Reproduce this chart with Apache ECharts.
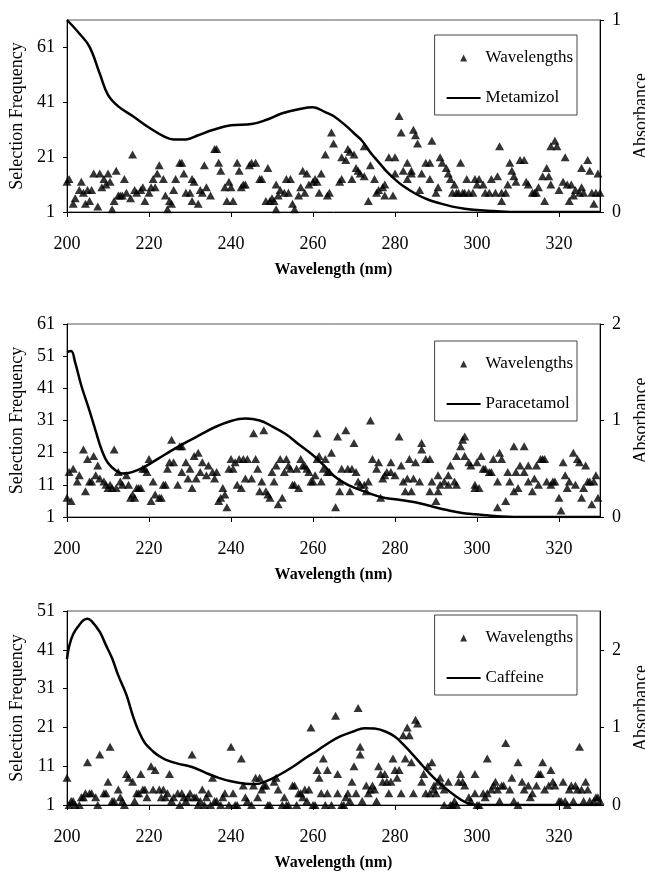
<!DOCTYPE html>
<html>
<head>
<meta charset="utf-8">
<script src="https://cdn.jsdelivr.net/npm/echarts@6/dist/echarts.min.js"></script>
<style>
  html, body { margin: 0; padding: 0; background: #fff; }
  #chart { width: 645px; height: 872px; }
</style>
</head>
<body>
<div id="chart"></div>
<script>
  // selection frequency of each wavelength, [nm, frequency]
  const metamizolFreq = [[200,12],[200.5,13],[201.5,4],[202,6],[203,9],[203.5,12],[204,8],[204.5,4],[205,9],[205.5,5],[206,9],[206.5,15],[207.5,3],[208,15],[208.5,10],[209,13],[209.5,11],[210,15],[210.5,12],[211,2],[211.5,5],[212,16],[212.5,7],[213,7],[213.5,7],[214,13],[214.5,8],[215.5,6],[216,22],[216.5,9],[217,8],[218,9],[218.5,10],[219,5],[220,8],[220.5,10],[221,13],[221.5,10],[222,15],[222.5,18],[223.5,13],[224,7],[224.5,2],[225,5],[225.5,4],[226,9],[226.5,13],[227.5,19],[228,19],[228.5,15],[229,8],[230,8],[230.5,13],[230.5,5],[231,12],[232,4],[232.5,9],[233,8],[233.5,18],[234,10],[235,7],[236,24],[236.5,24],[237,19],[237.5,16],[238.5,10],[239,5],[239.5,12],[240,10],[240.5,5],[241.5,19],[242,16],[242.5,10],[243,11],[243.5,11],[244.5,18],[245,19],[246,19],[247,13],[247.5,13],[248.5,5],[249,17],[249.5,5],[250,6],[250.5,5],[251,11],[251,2],[251.5,7],[252,9],[253,8],[253.5,13],[254,8],[254.5,13],[255,4],[255.5,2],[256.5,7],[257,10],[257.5,16],[258,8],[258.5,15],[259,11],[260,12],[260.5,13],[261,12],[261.5,8],[262,15],[263,22],[263.5,7],[264,8],[264.5,30],[265,26],[266.5,12],[267,13],[267,21],[268,20],[268.5,24],[269,23],[269.5,13],[270,22],[270.5,17],[271,16],[271.5,15],[272.5,14],[272.5,25],[273.5,5],[274,18],[275,13],[275.5,8],[276,9],[277,10],[277.5,7],[277.5,11],[278.5,21],[279.5,7],[280,21],[280,15],[281,36],[281.5,30],[282,16],[283,13],[283,19],[284,15],[284,16],[284.5,31],[285,29],[285.5,26],[286,9],[286.5,15],[287.5,19],[288.5,19],[288.5,13],[289,27],[290,8],[290.5,10],[291,21],[291.5,19],[292.5,17],[293,15],[293.5,13],[294,8],[294.5,11],[295,8],[295.5,8],[296,19],[296.5,8],[297,8],[297.5,13],[298,8],[299,8],[299.5,13],[300,11],[300.5,13],[301.5,11],[302,8],[303,8],[303.5,13],[304.5,8],[305,14],[305.5,25],[306,5],[306,8],[307,8],[307.5,11],[308,19],[308.5,16],[309,14],[309.5,12],[310.5,20],[311.5,20],[312,12],[312.5,11],[313.5,8],[314,8],[314.5,8],[315,10],[316,14],[316.5,5],[317,17],[317.5,14],[318,11],[318,25],[319,27],[319.5,25],[320,9],[321,12],[321.5,21],[322,11],[322.5,5],[323,11],[323.5,7],[324,9],[325,8],[325.5,10],[325.5,17],[326,8],[327,20],[327.5,16],[328,8],[328.5,4],[329,8],[329.5,15],[330,8]]

  const paracetamolFreq = [[200,7],[200.5,15],[201,6],[201.5,16],[202.5,12],[203,14],[204,22],[204.5,9],[205,19],[205.5,12],[206,12],[206.5,20],[207,14],[207.5,17],[208,13],[209,12],[209.5,11],[210,10],[210.5,11],[211,10],[211.5,22],[212,10],[212.5,15],[213,12],[213.5,11],[214.5,14],[215,11],[215.5,7],[216,8],[216.5,7],[217,10],[217.5,10],[218,10],[218.5,16],[219,16],[219.5,15],[220,19],[220.5,6],[221,12],[221.5,8],[222.5,7],[223,7],[223.5,11],[224,11],[224.5,16],[225,18],[225.5,25],[226,18],[227,11],[227.5,23],[228,23],[228,15],[229,18],[229.5,13],[230,16],[230.5,10],[231,20],[231.5,13],[232,21],[232.5,15],[233,18],[234,14],[234.5,17],[235.5,15],[236,13],[236.5,15],[237,6],[237.5,7],[238,10],[238.5,8],[239,4],[239.5,16],[240,19],[240.5,16],[241,18],[241.5,11],[242,19],[242.5,10],[243,19],[243.5,13],[244,19],[245,13],[245.5,27],[246,19],[246.5,16],[247,9],[247.5,12],[248,28],[248.5,9],[249,8],[249.5,7],[250,15],[250.5,12],[251,17],[251.5,5],[252,19],[252.5,7],[253,15],[253.5,19],[254,17],[254.5,16],[255,11],[255.5,11],[256,16],[256.5,10],[257,19],[257.5,17],[258,17],[258.5,16],[259,15],[259.5,12],[260,12],[260.5,14],[261,27],[261,19],[261.5,20],[262,12],[262.5,16],[263,19],[263.5,15],[264,15],[264.5,21],[265.5,4],[266,26],[266.5,12],[266.5,9],[267,16],[268,28],[268.5,16],[269,9],[269.5,16],[270,24],[270.5,15],[271,12],[271.5,11],[272.5,11],[273,9],[273.5,12],[274,31],[274.5,19],[275.5,16],[276,18],[276.5,7],[277,13],[277.5,14],[278,15],[279,18],[279,15],[280,14],[281,26],[281.5,17],[282,12],[282.5,9],[283,13],[283.5,19],[284,9],[284.5,13],[285,18],[286,12],[286.5,24],[286.5,22],[287.5,19],[288.5,9],[288.5,19],[289,12],[290,6],[290.5,9],[290.5,14],[291,11],[292,12],[293,11],[293,14],[293.5,17],[294.5,12],[295,11],[295,20],[296,23],[296.5,25],[297,26],[297,20],[298,18],[298.5,17],[299.5,11],[299.5,10],[300,18],[300.5,10],[301,20],[301.5,16],[302,16],[303,15],[303.5,15],[304,19],[305,12],[305,4],[305.5,21],[306,19],[307,6],[307.5,15],[308,12],[309,9],[309,23],[309.5,15],[310,10],[310.5,17],[311.5,23],[311.5,15],[312.5,12],[312.5,17],[313.5,9],[314,13],[314.5,17],[315,11],[315.5,19],[316,19],[316.5,19],[317,12],[318,11],[318.5,12],[319,12],[320,7],[320.5,3],[321,18],[321.5,14],[322,10],[322.5,12],[323.5,21],[324,11],[324.5,19],[325,18],[325.5,7],[326,10],[326.5,17],[327,12],[327.5,12],[328,5],[328.5,12],[329,14],[329.5,7]]

  const caffeineFreq = [[200,8],[200.5,1],[201,2],[201.5,2],[202,1],[203,1],[203.5,3],[204,3],[204.5,4],[205,12],[205.5,4],[206,4],[207,3],[207.5,1],[208,14],[209,4],[209.5,4],[210,7],[210.5,16],[211,2],[211.5,2],[212.5,5],[213,3],[213.5,2],[214,1],[214.5,9],[215,8],[216,7],[216.5,2],[217,4],[217.5,4],[218,9],[218.5,5],[219,5],[219.5,3],[220.5,11],[221,5],[221.5,10],[222.5,5],[223,3],[223.5,5],[224,3],[224.5,4],[225,9],[225.5,2],[226,3],[227,4],[227.5,1],[228,4],[228.5,3],[229,2],[229.5,3],[230,4],[230.5,14],[231,3],[231.5,3],[232,1],[232.5,2],[233,5],[233.5,1],[234,3],[234.5,4],[235,1],[235.5,8],[236,2],[236.5,2],[237.5,1],[238,3],[238.5,4],[239.5,1],[240,16],[240.5,4],[241,1],[241.5,1],[242.5,13],[243,6],[243.5,3],[244,2],[245,1],[245.5,6],[246,8],[246.5,3],[247,8],[247.5,5],[248,6],[248.5,6],[249,1],[249.5,1],[250.5,7],[251,8],[251.5,5],[252.5,1],[253,3],[253.5,1],[254,1],[255,6],[255.5,6],[256,1],[256.5,4],[257,4],[257.5,3],[258,5],[258.5,2],[259,5],[259.5,21],[260,1],[260.5,1],[261,10],[261.5,8],[262,4],[262.5,13],[263,1],[263.5,10],[263.5,4],[264.5,1],[265.5,24],[266,9],[266,4],[267,1],[267.5,1],[268,3],[268.5,4],[269,2],[269.5,7],[270,11],[270.5,4],[271,26],[271.5,14],[271.5,16],[272,2],[273,6],[273.5,4],[274,5],[274.5,6],[275,5],[275.5,2],[276,11],[276.5,9],[277,7],[277.5,9],[278,7],[278.5,4],[279,7],[279.5,13],[280,10],[280.5,8],[281,10],[281.5,4],[282,19],[282.5,13],[283,21],[283.5,19],[284,12],[284.5,4],[285,23],[285.5,22],[286.5,7],[287,9],[287.5,4],[288,11],[288.5,4],[289,12],[289.5,6],[289.5,5],[290,4],[290.5,7],[291,8],[291.5,6],[292,5],[292,1],[293,7],[293.5,1],[294,1],[294.5,2],[295,1],[295.5,7],[296,9],[296.5,7],[297,6],[298,3],[298.5,2],[299.5,9],[299.5,4],[300,1],[300.5,1],[301.5,4],[302,3],[302.5,4],[302.5,13],[303.5,5],[304,6],[304.5,7],[305,5],[305.5,2],[306,6],[306.5,6],[307,17],[308,5],[308.5,8],[309,2],[310,12],[310,1],[311,7],[311.5,5],[312.5,6],[313,3],[313.5,4],[314.5,6],[315,9],[315.5,9],[316,12],[316.5,5],[317.5,6],[318,10],[318.5,7],[319,6],[320,2],[320.5,2],[321,7],[321.5,2],[322,1],[322.5,5],[323,6],[323.5,2],[324,6],[324.5,5],[325,16],[325.5,5],[326,2],[326.5,7],[327,5],[327.5,2],[328.5,2],[329,3],[329.5,3],[330,2]]

  // absorbance spectra, [nm, absorbance]
  const metamizolAbs = [[200,1.0],[203,0.93],[205.5,0.86],[208,0.72],[210,0.61],[212.5,0.55],[216,0.50],[220,0.44],[224,0.39],[226,0.378],[229,0.378],[232,0.40],[235.5,0.427],[240,0.452],[245,0.458],[248.5,0.479],[252.5,0.514],[256.5,0.535],[260,0.545],[263,0.52],[265,0.50],[268,0.45],[270,0.41],[272,0.37],[274,0.31],[276,0.26],[278,0.21],[280,0.17],[282,0.135],[285,0.095],[288,0.065],[291,0.045],[294,0.028],[297,0.017],[300,0.01],[304,0.005],[310,0],[320,0],[330,0]]
  const paracetamolAbs = [[200,1.71],[201,1.72],[202,1.6],[203.5,1.36],[205.5,1.10],[207,0.89],[208.5,0.69],[210,0.56],[212,0.48],[213.5,0.45],[215,0.455],[217.5,0.49],[220,0.546],[224,0.65],[228,0.75],[232,0.84],[236,0.93],[240,0.995],[243.5,1.02],[247,1.0],[250,0.94],[253.5,0.855],[256.5,0.753],[260,0.64],[263,0.52],[265,0.43],[267.5,0.356],[270,0.304],[273.5,0.25],[276.5,0.207],[280,0.183],[283,0.166],[286.5,0.138],[289.5,0.104],[293,0.069],[296,0.045],[299.5,0.028],[302.5,0.017],[305,0.008],[309,0],[320,0],[330,0]]
  const caffeineAbs = [[200,1.88],[200.5,2.04],[201.5,2.2],[203,2.32],[204,2.38],[205,2.40],[206,2.37],[208,2.23],[209.5,2.06],[211,1.89],[212.5,1.67],[214.5,1.42],[216,1.16],[217.5,0.95],[219,0.8],[221,0.69],[222.5,0.63],[224,0.585],[227,0.533],[230.5,0.49],[234,0.41],[237,0.35],[240,0.305],[243.5,0.275],[246,0.27],[248.5,0.305],[251.5,0.38],[255,0.49],[258,0.6],[261,0.7],[263.5,0.79],[266.5,0.88],[270,0.95],[272.5,0.99],[275,0.985],[277.5,0.95],[280,0.88],[282,0.78],[284.5,0.64],[287,0.49],[289.5,0.35],[292,0.23],[294.5,0.125],[297,0.04],[299.5,0],[310,0],[330,0]]

  const font = '"Liberation Serif", "Times New Roman", serif'

  const panels = [
    { drug: 'Metamizol', freq: metamizolFreq, abs: metamizolAbs, top: 20, height: 192, fMax: 71, fStep: 20, aMax: 1, legendTop: 35 },
    { drug: 'Paracetamol', freq: paracetamolFreq, abs: paracetamolAbs, top: 324, height: 193, fMax: 61, fStep: 10, aMax: 2, legendTop: 341 },
    { drug: 'Caffeine', freq: caffeineFreq, abs: caffeineAbs, top: 611, height: 194, fMax: 51, fStep: 10, aMax: 2.5, legendTop: 615 }
  ]

  const txt = { fontFamily: font, color: '#000' }
  const blackLine = { lineStyle: { color: '#000', width: 1 } }
  // small triangle centred in a 34x7 legend cell (the two moves only stretch the bounds)
  const legendTriangle = 'path://M0,0M34,0M13.5,7L17,0L20.5,7Z'

  const option = {
    animation: false,
    backgroundColor: '#fff',
    grid: [], xAxis: [], yAxis: [], legend: [], series: []
  }

  panels.forEach((p, i) => {
    option.grid.push({
      left: 67, top: p.top, width: 533, height: p.height,
      outerBoundsMode: 'none',
      show: true, borderColor: '#555', borderWidth: 1
    })
    option.xAxis.push({
      gridIndex: i, type: 'value', min: 200, max: 330, interval: 20,
      axisLine: blackLine,
      axisTick: { show: true, length: 5, lineStyle: { color: '#000' } },
      axisLabel: { ...txt, fontSize: 18, margin: 23, showMaxLabel: false },
      splitLine: { show: false },
      name: 'Wavelength (nm)', nameLocation: 'middle', nameGap: 50,
      nameTextStyle: { ...txt, fontSize: 16, fontWeight: 'bold' }
    })
    // left axis: selection frequency
    option.yAxis.push({
      gridIndex: i, type: 'value', position: 'left', min: 1, max: p.fMax, interval: p.fStep,
      axisLine: { show: true, ...blackLine },
      axisTick: { show: true, length: 4, lineStyle: { color: '#000' } },
      axisLabel: { ...txt, fontSize: 18, margin: 12, showMaxLabel: p.fMax !== 71 },
      splitLine: { show: false },
      name: 'Selection Frequency', nameLocation: 'middle', nameRotate: 90, nameGap: 36,
      nameTextStyle: { ...txt, fontSize: 18 }
    })
    // right axis: absorbance
    option.yAxis.push({
      gridIndex: i, type: 'value', position: 'right', min: 0, max: p.aMax, interval: 1,
      axisLine: { show: true, ...blackLine },
      axisTick: { show: true, length: 4, lineStyle: { color: '#000' } },
      axisLabel: { ...txt, fontSize: 18, margin: 12, showMaxLabel: p.aMax !== 2.5 },
      splitLine: { show: false },
      name: 'Absorbance', nameLocation: 'middle', nameRotate: 90, nameGap: 27,
      nameTextStyle: { ...txt, fontSize: 18 }
    })
    option.legend.push({
      top: p.legendTop, right: 68, orient: 'vertical', selectedMode: false,
      data: [
        { name: 'Wavelengths', icon: legendTriangle },
        { name: p.drug, itemStyle: { opacity: 0 } }
      ],
      itemWidth: 34, itemHeight: 7, itemGap: 20,
      padding: [13, 4, 7, 11],
      borderColor: '#444', borderWidth: 1,
      textStyle: { ...txt, fontSize: 17, lineHeight: 20 }
    })
    option.series.push({
      name: 'Wavelengths', type: 'scatter', xAxisIndex: i, yAxisIndex: i * 2,
      data: p.freq, symbol: 'triangle', symbolSize: [9, 8],
      itemStyle: { color: '#000' }
    })
    option.series.push({
      name: p.drug, type: 'line', xAxisIndex: i, yAxisIndex: i * 2 + 1,
      data: p.abs, smooth: 0.4, symbol: 'none',
      lineStyle: { color: '#000', width: 2.5 },
      itemStyle: { color: '#000' }
    })
  })

  const chart = echarts.init(document.getElementById('chart'))
  chart.setOption(option)
</script>
</body>
</html>
